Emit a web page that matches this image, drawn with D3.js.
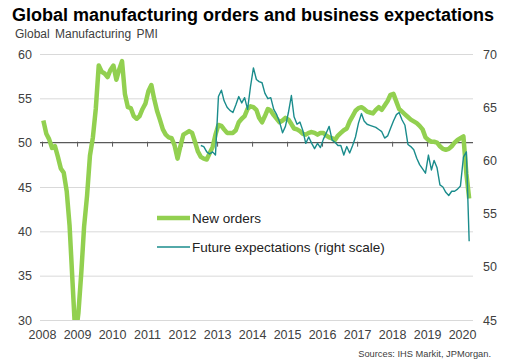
<!DOCTYPE html>
<html>
<head>
<meta charset="utf-8">
<script src="https://cdn.jsdelivr.net/npm/d3@7"></script>
<style>
  body { margin: 0; background: #fff; }
  svg { display: block; font-family: "Liberation Sans", Arial, sans-serif; }
</style>
</head>
<body>
<svg id="chart" width="514" height="362"></svg>
<script>
// monthly values, one row per year (Jan..Dec)
const newOrders = [
  [52.5, 51.0, 50.4, 49.4, 49.6, 48.4, 47.1, 46.6, 44.5, 40.6, 34.2, 28.0], // 2008
  [30.8, 35.5, 40.5, 44.0, 48.5, 50.6, 53.8, 58.7, 58.0, 57.8, 57.4, 58.2], // 2009
  [58.7, 57.1, 58.2, 59.2, 55.5, 54.0, 53.9, 53.0, 52.7, 53.0, 53.8, 54.4], // 2010
  [55.8, 56.5, 55.0, 53.6, 52.6, 51.5, 50.9, 50.6, 50.5, 49.7, 48.2, 49.6], // 2011
  [50.9, 51.1, 51.3, 51.1, 50.1, 49.0, 48.4, 48.2, 48.1, 48.8, 49.5, 50.9], // 2012
  [52.0, 51.9, 51.5, 51.1, 51.1, 51.1, 51.4, 52.3, 52.7, 53.0, 53.8, 54.1], // 2013
  [54.0, 53.7, 52.8, 52.3, 53.0, 53.8, 53.6, 53.1, 52.7, 52.3, 52.5, 52.8], // 2014
  [52.6, 52.1, 51.6, 51.5, 51.3, 51.0, 50.9, 51.1, 51.2, 51.1, 50.9, 51.1], // 2015
  [51.1, 50.8, 50.6, 50.5, 50.3, 50.8, 51.1, 51.4, 51.6, 52.4, 53.0, 53.6], // 2016
  [53.9, 54.0, 53.8, 53.5, 53.4, 53.3, 53.7, 54.0, 53.7, 54.2, 54.7, 55.4], // 2017
  [55.5, 54.6, 53.8, 53.5, 53.2, 52.9, 52.6, 52.4, 52.2, 51.9, 51.5, 50.6], // 2018
  [50.3, 50.1, 50.1, 50.0, 49.6, 49.3, 49.2, 49.3, 49.6, 50.0, 50.3, 50.5], // 2019
  [50.7, 46.5, 43.7]                                                        // 2020
];

// future output expectations, series starts July 2012
const futureStart = [2012, 6];
const futureExp = [
  [61.4, 61.3, 60.8, 60.6, 60.8, 60.5],                                     // 2012 Jul..Dec
  [66.0, 66.6, 65.6, 65.0, 64.7, 64.5, 65.2, 66.0, 65.4, 65.9, 64.8, 66.9], // 2013
  [68.7, 67.6, 67.4, 67.3, 66.3, 65.8, 65.9, 64.8, 64.3, 63.6, 62.6, 63.2], // 2014
  [64.5, 66.1, 64.1, 63.4, 63.6, 62.8, 61.6, 62.2, 61.6, 61.1, 61.6, 61.2], // 2015
  [62.0, 62.6, 63.2, 61.9, 61.7, 61.4, 61.4, 60.5, 61.3, 60.7, 61.4, 62.2], // 2016
  [63.5, 64.4, 63.7, 63.4, 63.3, 63.2, 63.1, 62.9, 62.7, 62.1, 62.3, 63.0], // 2017
  [63.7, 64.3, 64.5, 63.8, 63.3, 61.5, 61.3, 61.0, 60.2, 59.6, 59.2, 58.8], // 2018
  [60.5, 59.1, 60.0, 59.3, 57.7, 57.5, 57.0, 56.7, 57.1, 57.1, 57.3, 57.6], // 2019
  [60.3, 60.8, 52.4]                                                        // 2020
];

const years = d3.range(2008, 2021);
const leftTicks = [30, 35, 40, 45, 50, 55, 60];
const rightTicks = [45, 50, 55, 60, 65, 70];

const GREEN = "#92d050";
const TEAL = "#1a8c8c";
const TEXT = "#404040";

function toPoints(rows, startYear, startMonth) {
  const pts = [];
  rows.forEach((row, r) => {
    row.forEach((v, k) => {
      const m = r === 0 ? startMonth + k : k;
      pts.push({ date: new Date(startYear + r, m, 15), value: v });
    });
  });
  return pts;
}

const ordersData = toPoints(newOrders, 2008, 0);
const futureData = toPoints(futureExp, futureStart[0], futureStart[1]);

const svg = d3.select("#chart");
const margin = { top: 54, right: 41, bottom: 42, left: 42 };
const W = 514, H = 362;

const x = d3.scaleTime()
  .domain([new Date(2008, 0, 1), new Date(2020, 3, 24)])
  .range([margin.left, W - margin.right]);
const yL = d3.scaleLinear().domain([30, 60]).range([H - margin.bottom, margin.top]);
const yR = d3.scaleLinear().domain([45, 70]).range([H - margin.bottom, margin.top]);

// title and axis caption
svg.append("text")
  .attr("x", 12).attr("y", 21)
  .attr("font-size", 18).attr("font-weight", "bold").attr("fill", "#000")
  .text("Global manufacturing orders and business expectations");

svg.append("text")
  .attr("x", 15).attr("y", 38)
  .attr("font-size", 12).attr("fill", TEXT)
  .attr("word-spacing", 2)
  .text("Global Manufacturing PMI");

// gridlines
const grid = svg.append("g")
  .attr("transform", `translate(40,0)`)
  .call(d3.axisLeft(yL)
    .tickValues(leftTicks.filter(v => v !== 50))
    .tickSize(-(W - margin.right - 40))
    .tickFormat(""));
grid.select(".domain").remove();
grid.selectAll("line").attr("stroke", "#d9d9d9").attr("stroke-width", 1);

// left axis labels
const gl = svg.append("g")
  .attr("transform", `translate(${margin.left},0)`)
  .call(d3.axisLeft(yL).tickValues(leftTicks).tickSize(0).tickPadding(10));
gl.select(".domain").remove();
gl.selectAll("text").attr("font-size", 12.5).attr("fill", TEXT)
  .attr("font-family", "Liberation Sans, Arial, sans-serif");

// right axis labels
const gr = svg.append("g")
  .attr("transform", `translate(${W - margin.right},0)`)
  .call(d3.axisRight(yR).tickValues(rightTicks).tickSize(0).tickPadding(10));
gr.select(".domain").remove();
gr.selectAll("text").attr("font-size", 12.5).attr("fill", TEXT)
  .attr("font-family", "Liberation Sans, Arial, sans-serif");

// 50 line with year ticks
const yearDates = years.map(y => new Date(y, 0, 1));
const g50 = svg.append("g")
  .attr("transform", `translate(0,${yL(50)})`)
  .call(d3.axisBottom(x).tickValues(yearDates).tickSize(4).tickSizeOuter(0).tickFormat(""));
g50.select(".domain")
  .attr("d", `M40,0H${W - margin.right}`)
  .attr("stroke", "#595959").attr("stroke-width", 1.2);
g50.selectAll(".tick line").attr("stroke", "#595959").attr("y1", -1);

// year labels at the bottom
const gx = svg.append("g")
  .attr("transform", `translate(0,${H - margin.bottom})`)
  .call(d3.axisBottom(x).tickValues(yearDates).tickSize(0).tickPadding(10)
    .tickFormat(d3.timeFormat("%Y")));
gx.select(".domain").remove();
gx.selectAll("text").attr("font-size", 12.5).attr("fill", TEXT)
  .attr("font-family", "Liberation Sans, Arial, sans-serif");

// lines
svg.append("clipPath").attr("id", "plotClip")
  .append("rect")
  .attr("x", margin.left - 2).attr("y", margin.top - 10)
  .attr("width", W - margin.right - margin.left + 4)
  .attr("height", H - margin.bottom - margin.top + 10);

const lineL = d3.line().x(d => x(d.date)).y(d => yL(d.value));
const lineR = d3.line().x(d => x(d.date)).y(d => yR(d.value));

svg.append("path")
  .datum(ordersData)
  .attr("clip-path", "url(#plotClip)")
  .attr("fill", "none")
  .attr("stroke", GREEN)
  .attr("stroke-width", 4.5)
  .attr("stroke-linejoin", "round")
  .attr("d", lineL);

svg.append("path")
  .datum(futureData)
  .attr("fill", "none")
  .attr("stroke", TEAL)
  .attr("stroke-width", 1.4)
  .attr("stroke-linejoin", "round")
  .attr("d", lineR);

// legend
const legend = [
  { label: "New orders", color: GREEN, width: 4.5, y: 218 },
  { label: "Future expectations (right scale)", color: TEAL, width: 1.5, y: 247 }
];
const lg = svg.append("g");
legend.forEach(d => {
  lg.append("line")
    .attr("x1", 157).attr("x2", 190)
    .attr("y1", d.y).attr("y2", d.y)
    .attr("stroke", d.color).attr("stroke-width", d.width);
  lg.append("text")
    .attr("x", 192).attr("y", d.y).attr("dy", "0.35em")
    .attr("font-size", 13.5).attr("fill", "#222")
    .text(d.label);
});

// source
svg.append("text")
  .attr("x", 491).attr("y", 357)
  .attr("text-anchor", "end")
  .attr("font-size", 9.3).attr("fill", TEXT)
  .text("Sources: IHS Markit, JPMorgan.");
</script>
</body>
</html>
